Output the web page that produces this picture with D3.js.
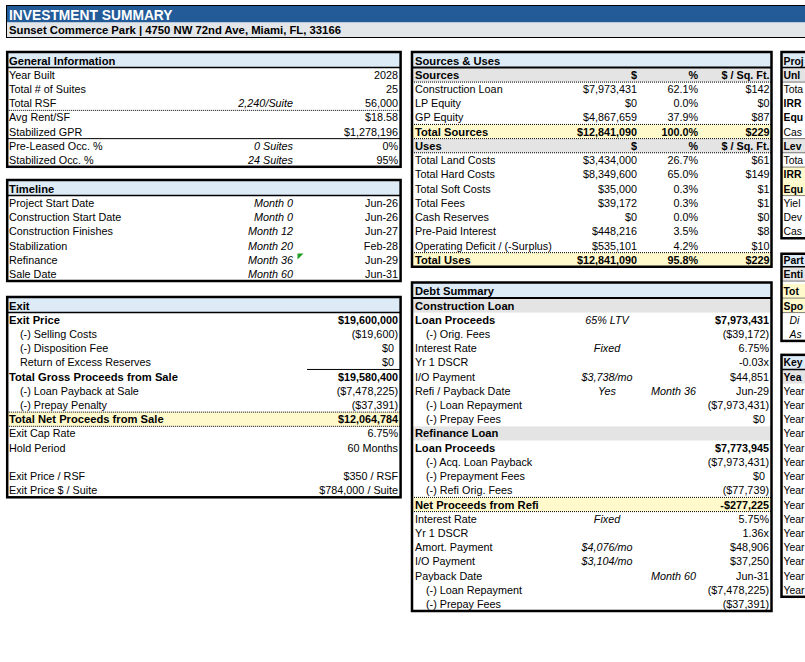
<!DOCTYPE html>
<html><head><meta charset="utf-8">
<script src="https://cdn.jsdelivr.net/npm/d3@7"></script>
<style>
html,body{margin:0;padding:0;background:#fff;overflow:hidden;}
svg{display:block;}
text{font-family:"Liberation Sans",Arial,Helvetica,sans-serif;font-size:10.8px;fill:#000;}
</style></head><body>
<svg id="c" width="805" height="662"></svg>
<script>
// ================= DATA =================
const titleText = "INVESTMENT SUMMARY";
const subtitleText = "Sunset Commerce Park | 4750 NW 72nd Ave, Miami, FL, 33166";
const sectionTitles = ["General Information","Timeline","Exit","Sources & Uses","Debt Summary","Project Returns","Partnership Returns","Key Metrics"];

const generalLabels = ["Year Built","Total # of Suites","Total RSF","Avg Rent/SF","Stabilized GPR","Pre-Leased Occ. %","Stabilized Occ. %"];
const generalNotes  = ["","","2,240/Suite","","","0 Suites","24 Suites"];
const generalValues = ["2028","25","56,000","$18.58","$1,278,196","0%","95%"];

const timelineLabels = ["Project Start Date","Construction Start Date","Construction Finishes","Stabilization","Refinance","Sale Date"];
const timelineMonths = ["Month 0","Month 0","Month 12","Month 20","Month 36","Month 60"];
const timelineDates  = ["Jun-26","Jun-26","Jun-27","Feb-28","Jun-29","Jun-31"];

const exitLabels = ["Exit Price","(-) Selling Costs","(-) Disposition Fee","Return of Excess Reserves","Total Gross Proceeds from Sale","(-) Loan Payback at Sale","(-) Prepay Penalty","Total Net Proceeds from Sale","Exit Cap Rate","Hold Period","","Exit Price / RSF","Exit Price $ / Suite"];
const exitValues = ["$19,600,000","($19,600)","$0","$0","$19,580,400","($7,478,225)","($37,391)","$12,064,784","6.75%","60 Months","","$350 / RSF","$784,000 / Suite"];

const suGroups  = ["Sources","Uses"];
const suHeaders = ["$","%","$ / Sq. Ft."];
const sourcesLabels  = ["Construction Loan","LP Equity","GP Equity","Total Sources"];
const sourcesAmounts = ["$7,973,431","$0","$4,867,659","$12,841,090"];
const sourcesPct     = ["62.1%","0.0%","37.9%","100.0%"];
const sourcesPsf     = ["$142","$0","$87","$229"];
const usesLabels  = ["Total Land Costs","Total Hard Costs","Total Soft Costs","Total Fees","Cash Reserves","Pre-Paid Interest","Operating Deficit / (-Surplus)","Total Uses"];
const usesAmounts = ["$3,434,000","$8,349,600","$35,000","$39,172","$0","$448,216","$535,101","$12,841,090"];
const usesPct     = ["26.7%","65.0%","0.3%","0.3%","0.0%","3.5%","4.2%","95.8%"];
const usesPsf     = ["$61","$149","$1","$1","$0","$8","$10","$229"];

const debtTranches = ["Construction Loan","Refinance Loan"];
const constLoanLabels = ["Loan Proceeds","(-) Orig. Fees","Interest Rate","Yr 1 DSCR","I/O Payment","Refi / Payback Date","(-) Loan Repayment","(-) Prepay Fees"];
const constLoanTerms  = ["65% LTV","","Fixed","","$3,738/mo","Yes","",""];
const constLoanMonths = ["","","","","","Month 36","",""];
const constLoanValues = ["$7,973,431","($39,172)","6.75%","-0.03x","$44,851","Jun-29","($7,973,431)","$0"];

const refiLabels = ["Loan Proceeds","(-) Acq. Loan Payback","(-) Prepayment Fees","(-) Refi Orig. Fees","Net Proceeds from Refi","Interest Rate","Yr 1 DSCR","Amort. Payment","I/O Payment","Payback Date","(-) Loan Repayment","(-) Prepay Fees"];
const refiTerms  = ["","","","","","Fixed","","$4,076/mo","$3,104/mo","","",""];
const refiMonths = ["","","","","","","","","","Month 60","",""];
const refiValues = ["$7,773,945","($7,973,431)","$0","($77,739)","-$277,225","5.75%","1.36x","$48,906","$37,250","Jun-31","($7,478,225)","($37,391)"];

const returnsLabels = ["Unlevered","Total Profit","IRR","Equity Multiple","Cash on Cash","Levered","Total Profit","IRR","Equity Multiple","Yield on Cost","Development Spread","Cash on Cash"];
const partnershipLabels = ["Entity","Total","Sponsor","Distributions","Assumptions"];
const keyYears = ["Year","Year 1","Year 2","Year 3","Year 4","Year 5","Year 6","Year 7","Year 8","Year 9","Year 10","Year 11","Year 12","Year 13","Year 14","Year 15"];

// ================= RENDER =================
const W = 805;
const svg = d3.select("#c");
const C = {blue:"#225B98", sub:"#E3E6E9", head:"#DDEBF7", gray:"#E4E4E4", yellow:"#FFF9CC"};
const H = 7.1;
const BOLD_LABEL = "11.2px";
// spreadsheet row index -> y centre
const rowY = d3.scaleLinear()
  .domain([-1, 0, 6, 8, 14, 15, 16, 37])
  .range([60.5, 75, 159.8, 188.5, 274, 291, 305.5, 604]);

const gFill = svg.append("g"), gLine = svg.append("g"), gText = svg.append("g"), gBox = svg.append("g");

// title bars
gFill.append("rect").attr("x",6).attr("y",5).attr("width",W).attr("height",17.5).attr("fill",C.blue);
gFill.append("rect").attr("x",6).attr("y",22.5).attr("width",W).attr("height",15).attr("fill",C.sub);
gLine.append("path").attr("d","M6,37.5H805M6,5.5H805M6.5,5V38").attr("stroke","#000").attr("stroke-width",1).attr("fill","none");
gText.append("text").attr("x",9).attr("y",20).style("font-size","13.8px").style("font-weight","bold").style("fill","#fff").text(titleText);
gText.append("text").attr("x",9).attr("y",34.3).style("font-size","11.3px").style("font-weight","bold").text(subtitleText);

// clip a text to the visible page width, like a spreadsheet cell cut by the window edge
function fitToPage(sel){
  sel.each(function(){
    const x = +this.getAttribute("x");
    let t = this.textContent;
    while (t.length > 1 && x + this.getComputedTextLength() > W - 0.5) {
      t = t.slice(0, -1); this.textContent = t;
    }
  });
}

function section(cfg){
  const {x0,x1,hdr,title,last,topPad=8.5,cols,anchors,rows,hdrLine=1.5,clip=false,fs=null} = cfg;
  const colX = d3.scaleOrdinal().domain(Object.keys(cols)).range(Object.values(cols));
  const colA = d3.scaleOrdinal().domain(Object.keys(anchors)).range(Object.values(anchors));
  const top = rowY(hdr)-topPad, bottom = rowY(last)+7;
  gFill.append("rect").attr("x",x0).attr("y",top).attr("width",x1-x0).attr("height",rowY(hdr)+H-top).attr("fill",C.head);
  gFill.selectAll(null).data(rows.filter(d=>d.fill)).join("rect")
    .attr("x",x0).attr("width",x1-x0).attr("y",d=>rowY(d.r)-H).attr("height",2*H).attr("fill",d=>C[d.fill]);
  gLine.append("line").attr("x1",x0).attr("x2",x1).attr("y1",rowY(hdr)+H).attr("y2",rowY(hdr)+H)
    .attr("stroke","#000").attr("stroke-width",hdrLine);
  const dots=[], solids=[];
  rows.forEach(d=>{
    if(d.dotTop) dots.push(rowY(d.r)-H);
    if(d.dotBottom) dots.push(rowY(d.r)+H);
    if(d.solidBottom) solids.push({y:rowY(d.r)+H, xa:d.solidFrom||x0});
  });
  gLine.selectAll(null).data(dots).join("line").attr("x1",x0).attr("x2",x1).attr("y1",d=>d).attr("y2",d=>d)
    .attr("stroke","#000").attr("stroke-width",1).attr("stroke-dasharray","1,1");
  gLine.selectAll(null).data(solids).join("line").attr("x1",d=>d.xa).attr("x2",x1).attr("y1",d=>d.y).attr("y2",d=>d.y)
    .attr("stroke","#000").attr("stroke-width",1);
  const ht = gText.append("text").attr("x",colX("label")).attr("y",rowY(hdr)+4)
    .style("font-weight","bold").style("font-size",fs||BOLD_LABEL).text(title);
  const cells = rows.flatMap(d=>d.cells.map(c=>({r:d.r,col:c[0],t:c[1],o:Object.assign({bold:d.bold},c[2]||{})})))
    .filter(c=>c.t);
  const ts = gText.selectAll(null).data(cells).join("text")
    .attr("x",c=>colX(c.col)+(c.o.dx||0)).attr("y",c=>rowY(c.r)+4)
    .attr("text-anchor",c=>colA(c.col))
    .style("font-weight",c=>c.o.bold?"bold":null)
    .style("font-size",c=>fs ? fs : ((c.o.bold && c.col==="label")?BOLD_LABEL:null))
    .style("font-style",c=>c.o.italic?"italic":null)
    .text(c=>c.t);
  if (clip) { fitToPage(ht); fitToPage(ts); }
  gBox.append("rect").attr("x",x0).attr("y",top).attr("width",x1-x0).attr("height",bottom-top)
    .attr("fill","none").attr("stroke","#000").attr("stroke-width",2.5);
}
const zeroDx = v => v==="$0" ? {dx:-4} : {};

// ---- left column ----
const leftCols = {label:9, indent:20, mid:293, val:398};
const leftAnch = {label:"start", indent:"start", mid:"end", val:"end"};
section({x0:7.2,x1:400.6,hdr:-1,last:6,title:sectionTitles[0],cols:leftCols,anchors:leftAnch,
  rows:generalLabels.map((l,i)=>({r:i,dotBottom:i===2,solidBottom:i===4,
    cells:[["label",l],["mid",generalNotes[i],{italic:true}],["val",generalValues[i]]]}))});

section({x0:7.2,x1:400.6,hdr:8,last:14,title:sectionTitles[1],cols:leftCols,anchors:leftAnch,
  rows:timelineLabels.map((l,i)=>({r:9+i,
    cells:[["label",l],["mid",timelineMonths[i],{italic:true}],["val",timelineDates[i]]]}))});

const exitBold=[0,4,7], exitIndent=[1,2,3,5,6];
section({x0:7.2,x1:400.6,hdr:16,last:29,title:sectionTitles[2],cols:leftCols,anchors:leftAnch,
  rows:exitLabels.map((l,i)=>({r:17+i,bold:exitBold.includes(i),fill:i===7?"yellow":null,
    dotTop:i===7,dotBottom:i===7,solidBottom:i===3,solidFrom:307,
    cells:[[exitIndent.includes(i)?"indent":"label",l],["val",exitValues[i],zeroDx(exitValues[i])]]}))});

// green indicator triangle
gBox.append("path").attr("d","M297.5,253.5H303.5L297.5,259.5Z").attr("fill","#1E9E1E");

// ---- middle column ----
const suCols = {label:415, amt:637, pct:698, psf:769.5};
const suAnch = {label:"start", amt:"end", pct:"end", psf:"end"};
const suRows = [];
suRows.push({r:0,bold:true,fill:"gray",dotBottom:true,cells:[["label",suGroups[0]],["amt",suHeaders[0]],["pct",suHeaders[1]],["psf",suHeaders[2]]]});
sourcesLabels.forEach((l,i)=>{const tot=i===sourcesLabels.length-1;
  suRows.push({r:1+i,bold:tot,fill:tot?"yellow":null,dotTop:tot,dotBottom:tot,
    cells:[["label",l],["amt",sourcesAmounts[i]],["pct",sourcesPct[i]],["psf",sourcesPsf[i]]]});});
suRows.push({r:5,bold:true,fill:"gray",dotBottom:true,cells:[["label",suGroups[1]],["amt",suHeaders[0]],["pct",suHeaders[1]],["psf",suHeaders[2]]]});
usesLabels.forEach((l,i)=>{const tot=i===usesLabels.length-1;
  suRows.push({r:6+i,bold:tot,fill:tot?"yellow":null,dotTop:tot,
    cells:[["label",l],["amt",usesAmounts[i]],["pct",usesPct[i]],["psf",usesPsf[i]]]});});
section({x0:412,x1:771.5,hdr:-1,last:13,title:sectionTitles[3],cols:suCols,anchors:suAnch,rows:suRows,hdrLine:2});

const dCols = {label:415, indent:426, term:607, month:696, val:769};
const dAnch = {label:"start", indent:"start", term:"middle", month:"end", val:"end"};
const dRows = [];
dRows.push({r:16,bold:true,fill:"gray",cells:[["label",debtTranches[0]]]});
const clIndent=[1,6,7];
constLoanLabels.forEach((l,i)=>dRows.push({r:17+i,bold:i===0,
  cells:[[clIndent.includes(i)?"indent":"label",l],["term",constLoanTerms[i],{italic:true,bold:false}],
         ["month",constLoanMonths[i],{italic:true}],["val",constLoanValues[i],zeroDx(constLoanValues[i])]]}));
dRows.push({r:25,bold:true,fill:"gray",cells:[["label",debtTranches[1]]]});
const rfIndent=[1,2,3,10,11];
refiLabels.forEach((l,i)=>dRows.push({r:26+i,bold:i===0||i===4,fill:i===4?"yellow":null,dotTop:i===4,dotBottom:i===4,
  cells:[[rfIndent.includes(i)?"indent":"label",l],["term",refiTerms[i],{italic:true}],
         ["month",refiMonths[i],{italic:true}],["val",refiValues[i],zeroDx(refiValues[i])]]}));
section({x0:412,x1:771.5,hdr:15,last:37,title:sectionTitles[4],cols:dCols,anchors:dAnch,rows:dRows,hdrLine:2});

// ---- right column (cut by the page edge) ----
const rCols = {label:783.5, indent:789.5};
const rAnch = {label:"start", indent:"start"};
const rFs = "10.4px";
const retBold=[0,2,3,5,7,8];
section({x0:781.5,x1:840,hdr:-1,last:11,title:sectionTitles[5],cols:rCols,anchors:rAnch,clip:true,fs:rFs,
  rows:returnsLabels.map((l,i)=>({r:i,bold:retBold.includes(i),
    fill:(i===0||i===5)?"gray":((i===7||i===8)?"yellow":null),
    dotBottom:[0,5,8].includes(i),dotTop:[5,7].includes(i),cells:[["label",l]]}))});
section({x0:781.5,x1:840,hdr:13,last:18,topPad:6,title:sectionTitles[6],cols:rCols,anchors:rAnch,clip:true,fs:rFs,
  rows:partnershipLabels.map((l,i)=>({r:14+i,bold:i<3,fill:i===0?"gray":(i<3?"yellow":null),
    dotBottom:i<3,cells:[[i<3?"label":"indent",l,i<3?{}:{italic:true}]]}))});
section({x0:781.5,x1:840,hdr:20,last:36,topPad:7.5,title:sectionTitles[7],cols:rCols,anchors:rAnch,clip:true,fs:rFs,
  rows:keyYears.map((l,i)=>({r:21+i,bold:i===0,fill:i===0?"gray":null,cells:[["label",l]]}))});
</script>
</body></html>
